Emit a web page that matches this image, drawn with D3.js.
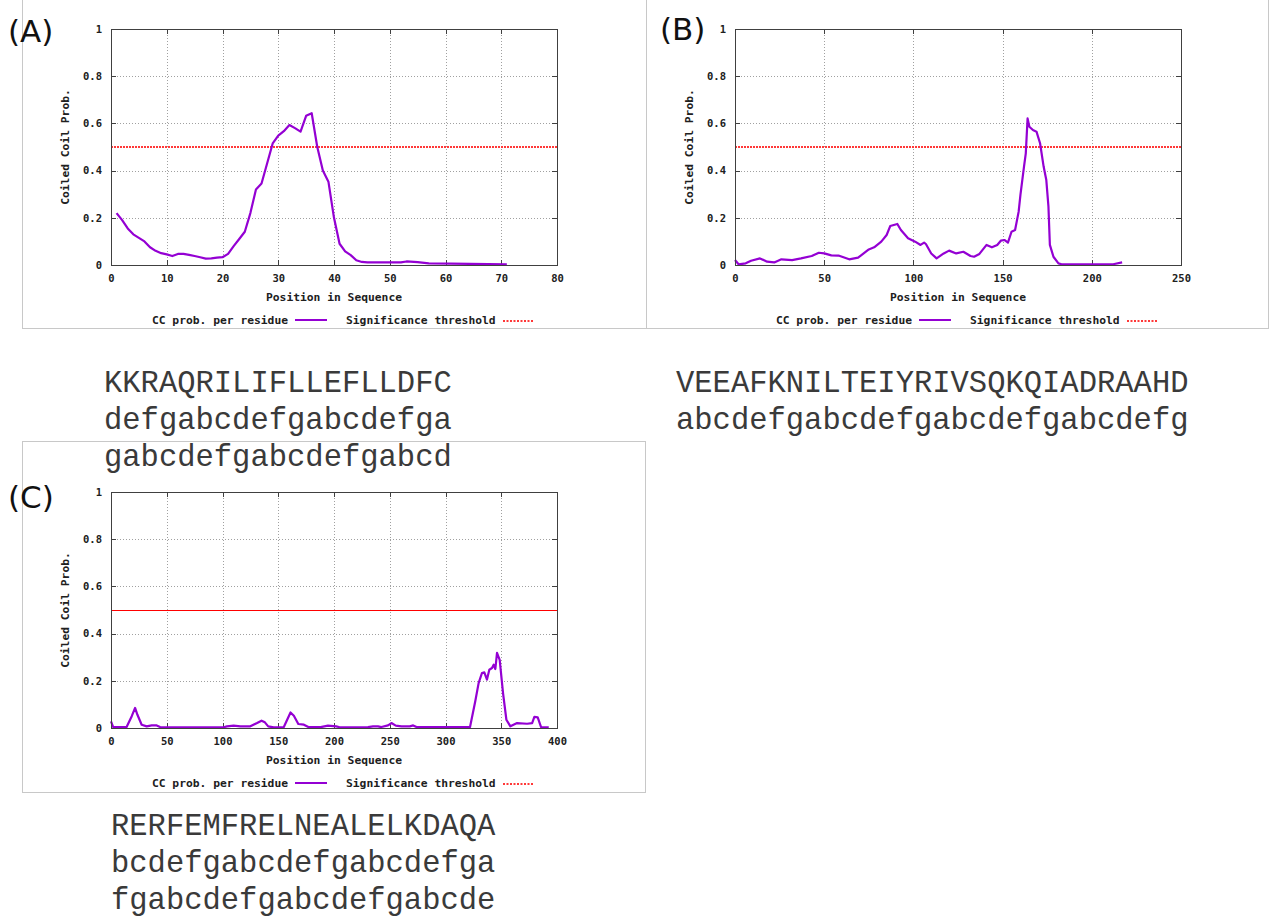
<!DOCTYPE html>
<html>
<head>
<meta charset="utf-8">
<script src="https://cdn.jsdelivr.net/npm/d3@7"></script>
<style>
    body { margin: 0; background: #fff; }
</style>
</head>
<body>
<script>
// tick values
var yTicks  = [0, 0.2, 0.4, 0.6, 0.8, 1],
    xTicksA = [0, 10, 20, 30, 40, 50, 60, 70, 80],
    xTicksB = [0, 50, 100, 150, 200, 250],
    xTicksC = [0, 50, 100, 150, 200, 250, 300, 350, 400];

// panel A: residue position / coiled coil probability
var posA  = [1, 2, 3, 4, 5, 6, 7, 8, 9, 10, 11, 12, 13, 14, 15, 16, 17, 18, 19, 20,
             21, 22, 23, 24, 25, 26, 27, 28, 29, 30, 31, 32, 33, 34, 35, 36, 37, 38, 39, 40,
             41, 42, 43, 44, 45, 46, 52, 53, 55, 57, 61, 71];
var probA = [0.22, 0.19, 0.155, 0.13, 0.115, 0.10, 0.075, 0.06, 0.05, 0.045,
             0.038, 0.047, 0.047, 0.043, 0.038, 0.033, 0.027, 0.028, 0.031, 0.033,
             0.047, 0.08, 0.11, 0.141, 0.22, 0.32, 0.345, 0.43, 0.515, 0.548,
             0.567, 0.593, 0.58, 0.565, 0.632, 0.643, 0.5, 0.4, 0.353, 0.2,
             0.09, 0.058, 0.042, 0.02, 0.013, 0.011, 0.011, 0.015, 0.012, 0.007, 0.006, 0.003];

// panel B
var posB  = [0, 2, 6, 9, 14, 18, 22, 26, 32, 37, 43, 47, 50, 54, 58, 64, 69, 75, 78, 82,
             85, 87, 91, 93, 97, 101, 104, 106, 107, 110, 113, 117, 120, 124, 128, 132, 134, 137, 141, 144,
             147, 149, 151, 153, 155, 157, 159, 160, 162, 163, 164, 165, 167, 169, 171, 173, 174.5, 175.7, 176.5, 178.5,
             181.3, 183, 212, 217];
var probB = [0.021, 0.003, 0.007, 0.018, 0.028, 0.014, 0.011, 0.024, 0.021, 0.028,
             0.038, 0.052, 0.049, 0.041, 0.04, 0.024, 0.031, 0.066, 0.075, 0.099,
             0.127, 0.165, 0.174, 0.148, 0.113, 0.099, 0.085, 0.095, 0.089, 0.049,
             0.028, 0.049, 0.061, 0.049, 0.056, 0.038, 0.035, 0.047, 0.085, 0.075,
             0.085, 0.103, 0.106, 0.095, 0.141, 0.148, 0.226, 0.297, 0.417, 0.473,
             0.621, 0.586, 0.572, 0.565, 0.516, 0.417, 0.36, 0.247, 0.085, 0.035,
             0.007, 0.003, 0.003, 0.011];

// panel C
var posC  = [0, 2, 14, 18.6, 21.6, 23.7, 27.5, 32, 36.5, 41, 44, 101, 104, 110, 116, 125, 131, 135, 138, 141,
             146, 155, 158, 161, 164, 168, 173, 177, 188, 194.6, 202, 205, 230.5, 235, 239.5, 242.5, 248.5, 251.5, 255.4, 260.5,
             268, 271, 274, 322, 326.7, 329.7, 332.7, 334.8, 337.2, 339.3, 341.7, 343.2, 344.7, 346.2, 348.6, 351.6, 354.6, 358.2, 364.2, 373.2,
             377.7, 379.7, 382.7, 385.7, 392.6];
var probC = [0.028, 0.004, 0.004, 0.05, 0.085, 0.056, 0.014, 0.007, 0.011, 0.011,
             0.004, 0.003, 0.007, 0.01, 0.007, 0.007, 0.021, 0.031, 0.024, 0.007,
             0.003, 0.004, 0.035, 0.066, 0.052, 0.017, 0.014, 0.004, 0.004, 0.01,
             0.007, 0.003, 0.004, 0.007, 0.007, 0.004, 0.011, 0.021, 0.01, 0.007,
             0.007, 0.011, 0.004, 0.004, 0.113, 0.19, 0.233, 0.236, 0.205, 0.247,
             0.254, 0.268, 0.25, 0.318, 0.289, 0.148, 0.035, 0.007, 0.021, 0.018,
             0.021, 0.047, 0.045, 0.004, 0.003];

var threshold = 0.5;

// sequence / heptad text under each plot
var seqA = ['KKRAQRILIFLLEFLLDFC', 'defgabcdefgabcdefga', 'gabcdefgabcdefgabcd'],
    seqB = ['VEEAFKNILTEIYRIVSQKQIADRAAHD', 'abcdefgabcdefgabcdefgabcdefg'],
    seqC = ['RERFEMFRELNEALELKDAQA', 'bcdefgabcdefgabcdefga', 'fgabcdefgabcdefgabcde'];

// sizes
var plotW = 446,
    plotH = 236,
    tickFont = 'DejaVu Sans Mono',
    red = '#ff3838',
    purple = '#9400d3';

// create svg
var svg = d3.select('body')
    .append('svg')
    .attr('width', 1270)
    .attr('height', 918);

/**
 * draw one gnuplot style panel
 * @param {*} p
 */
function drawPanel(p) {
    // outer box
    svg.append('rect')
        .attr('x', p.box[0] + 0.5)
        .attr('y', p.box[1] + 0.5)
        .attr('width', p.box[2] - p.box[0])
        .attr('height', p.box[3] - p.box[1])
        .attr('fill', 'none')
        .attr('stroke', '#c8c8c8')
        .attr('shape-rendering', 'crispEdges');

    var g = svg.append('g')
        .attr('transform', 'translate(' + p.left + ',' + p.top + ')');

    var x = d3.scaleLinear().domain([0, p.xTicks[p.xTicks.length - 1]]).range([0, plotW]);
    var y = d3.scaleLinear().domain([0, 1]).range([plotH, 0]);

    // grid
    g.selectAll('.gx')
        .data(p.xTicks.slice(1, -1))
        .enter()
        .append('line')
        .attr('class', 'gx')
        .attr('x1', function(d) { return Math.round(x(d)) + 0.5; })
        .attr('x2', function(d) { return Math.round(x(d)) + 0.5; })
        .attr('y1', 0)
        .attr('y2', plotH)
        .attr('stroke', '#a0a0a0')
        .attr('stroke-dasharray', '1,2')
        .attr('shape-rendering', 'crispEdges');
    g.selectAll('.gy')
        .data(yTicks.slice(1, -1))
        .enter()
        .append('line')
        .attr('class', 'gy')
        .attr('x1', 0)
        .attr('x2', plotW)
        .attr('y1', function(d) { return Math.round(y(d)) + 0.5; })
        .attr('y2', function(d) { return Math.round(y(d)) + 0.5; })
        .attr('stroke', '#a0a0a0')
        .attr('stroke-dasharray', '1,2')
        .attr('shape-rendering', 'crispEdges');

    // axes (ticks pointing inwards)
    var fmtY = function(d) { return d === 0 || d === 1 ? String(d) : d3.format('.1f')(d); };
    var axes = [
        g.append('g').attr('transform', 'translate(0,' + plotH + ')')
            .call(d3.axisBottom(x).tickValues(p.xTicks).tickSize(-5).tickPadding(10)),
        g.append('g')
            .call(d3.axisLeft(y).tickValues(yTicks).tickSize(-5).tickPadding(9).tickFormat(fmtY)),
        g.append('g')
            .call(d3.axisTop(x).tickValues(p.xTicks).tickSize(-5).tickFormat('')),
        g.append('g').attr('transform', 'translate(' + plotW + ',0)')
            .call(d3.axisRight(y).tickValues(yTicks).tickSize(-5).tickFormat(''))
    ];
    axes.forEach(function(a) {
        a.select('.domain').remove();
        a.attr('color', '#404040')
            .attr('font-family', tickFont)
            .attr('font-size', 10.5)
            .attr('font-weight', 'bold');
        a.selectAll('line').attr('shape-rendering', 'crispEdges');
        a.selectAll('text').attr('fill', '#202020');
    });

    // threshold: dotted in A/B, solid in C
    var ty = Math.round(y(threshold));
    if (p.solid) {
        g.append('line')
            .attr('x1', 0).attr('x2', plotW)
            .attr('y1', ty + 0.5).attr('y2', ty + 0.5)
            .attr('stroke', '#ff0000')
            .attr('stroke-width', 1)
            .attr('shape-rendering', 'crispEdges');
    } else {
        g.append('line')
            .attr('x1', 0).attr('x2', plotW)
            .attr('y1', ty).attr('y2', ty)
            .attr('stroke', red)
            .attr('stroke-width', 2)
            .attr('stroke-dasharray', '2,1');
    }

    // probability curve
    var pts = p.pos.map(function(d, i) { return [d, p.prob[i]]; });
    g.append('path')
        .datum(pts)
        .attr('d', d3.line().x(function(d) { return x(d[0]); }).y(function(d) { return y(d[1]); }))
        .attr('fill', 'none')
        .attr('stroke', purple)
        .attr('stroke-width', 2.2)
        .attr('stroke-linejoin', 'round');

    // frame
    g.append('rect')
        .attr('x', 0.5)
        .attr('y', 0.5)
        .attr('width', plotW)
        .attr('height', plotH)
        .attr('fill', 'none')
        .attr('stroke', '#404040')
        .attr('shape-rendering', 'crispEdges');

    // axis titles
    var lbl = function(sel) {
        return sel.attr('font-family', tickFont)
            .attr('font-size', 11.3)
            .attr('font-weight', 'bold')
            .attr('fill', '#202020');
    };
    lbl(g.append('text'))
        .attr('transform', 'translate(-46,' + (plotH / 2) + ') rotate(-90)')
        .attr('text-anchor', 'middle')
        .attr('dominant-baseline', 'central')
        .text('Coiled Coil Prob.');
    lbl(g.append('text'))
        .attr('x', plotW / 2)
        .attr('y', plotH + 32)
        .attr('text-anchor', 'middle')
        .attr('dominant-baseline', 'central')
        .text('Position in Sequence');

    // legend
    lbl(g.append('text'))
        .attr('x', 177)
        .attr('y', plotH + 55)
        .attr('text-anchor', 'end')
        .attr('dominant-baseline', 'central')
        .text('CC prob. per residue');
    g.append('line')
        .attr('x1', 184).attr('x2', 216)
        .attr('y1', plotH + 55).attr('y2', plotH + 55)
        .attr('stroke', purple)
        .attr('stroke-width', 2);
    lbl(g.append('text'))
        .attr('x', 235)
        .attr('y', plotH + 55)
        .attr('dominant-baseline', 'central')
        .text('Significance threshold');
    g.append('line')
        .attr('x1', 392).attr('x2', 422)
        .attr('y1', plotH + 56).attr('y2', plotH + 56)
        .attr('stroke', red)
        .attr('stroke-width', 2)
        .attr('stroke-dasharray', '2,1.5');

    // panel letter
    svg.append('text')
        .attr('x', p.tag[0])
        .attr('y', p.tag[1])
        .attr('font-family', 'DejaVu Sans')
        .attr('font-size', 31)
        .attr('fill', '#111')
        .text(p.label);
}

/**
 * draw sequence lines
 * @param {*} lines
 * @param {*} x0
 * @param {*} y0
 */
function drawSeq(lines, x0, y0) {
    svg.selectAll(null)
        .data(lines)
        .enter()
        .append('text')
        .attr('x', x0)
        .attr('y', function(d, i) { return y0 + i * 36.8; })
        .attr('font-family', "'Courier New', 'Liberation Mono', monospace")
        .attr('font-size', 30.5)
        .attr('fill', '#3a3a3a')
        .text(function(d) { return d; });
}

// panels
drawPanel({ label: '(A)', tag: [8, 42], box: [22, -1, 646, 328], left: 111, top: 29,
            xTicks: xTicksA, pos: posA, prob: probA, solid: false });
drawPanel({ label: '(B)', tag: [660, 40], box: [646, -1, 1268, 328], left: 735, top: 29,
            xTicks: xTicksB, pos: posB, prob: probB, solid: false });
drawPanel({ label: '(C)', tag: [8, 508], box: [22, 441, 645, 792], left: 111, top: 492,
            xTicks: xTicksC, pos: posC, prob: probC, solid: true });

// sequences
drawSeq(seqA, 104, 392);
drawSeq(seqB, 676, 392);
drawSeq(seqC, 111, 835);
</script>
</body>
</html>
